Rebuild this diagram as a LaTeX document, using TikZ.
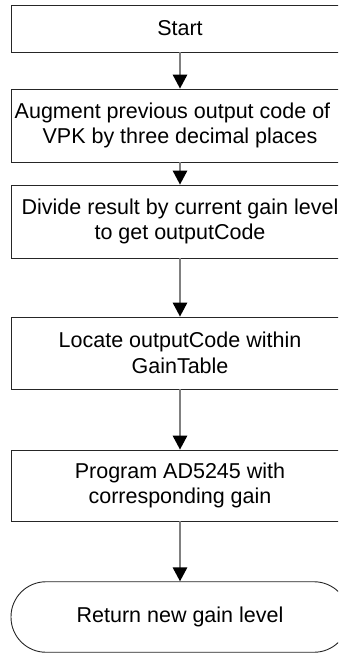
\documentclass[tikz,border=0pt]{standalone}
\usepackage{fontspec}
\setmainfont{Liberation Sans}
\usetikzlibrary{arrows.meta}
\begin{document}
\begin{tikzpicture}[x=1pt,y=1pt,
  box/.style={draw=black!85, line width=0.9pt, fill=white, minimum width=338pt, inner sep=0pt, align=center,
     font=\fontsize{21.5pt}{25.5pt}\selectfont},
  term/.style={box, rounded corners=35pt},
  flow/.style={draw=black!50, line width=1.6pt, -{Triangle[length=14pt,width=14.5pt,fill=black,color=black]}}]
\useasboundingbox (0,0) rectangle (338,-653);
\clip (0,0) rectangle (338,-653);
\node[box, minimum height=47pt] (start) at (180,-28.5) {Start};
\node[box, minimum height=73pt] (aug) at (180,-125.5) {Augment previous output code of\hspace*{15pt}\mbox{}\\VPK by three decimal places};
\node[box, minimum height=73pt] (div) at (180,-221.5) {Divide result by current gain level\\to get outputCode};
\node[box, minimum height=72pt] (loc) at (180,-353) {Locate outputCode within\\GainTable};
\node[box, minimum height=71pt] (prog) at (180,-485.5) {Program AD5245 with\\corresponding gain};
\node[term, minimum height=70.5pt] (ret) at (180,-617) {Return new gain level};
\draw[flow] (start) -- (aug);
\draw[flow] (aug) -- (div);
\draw[flow] (div) -- (loc);
\draw[flow] (loc) -- (prog);
\draw[flow] (prog) -- (ret);
\end{tikzpicture}
\end{document}
